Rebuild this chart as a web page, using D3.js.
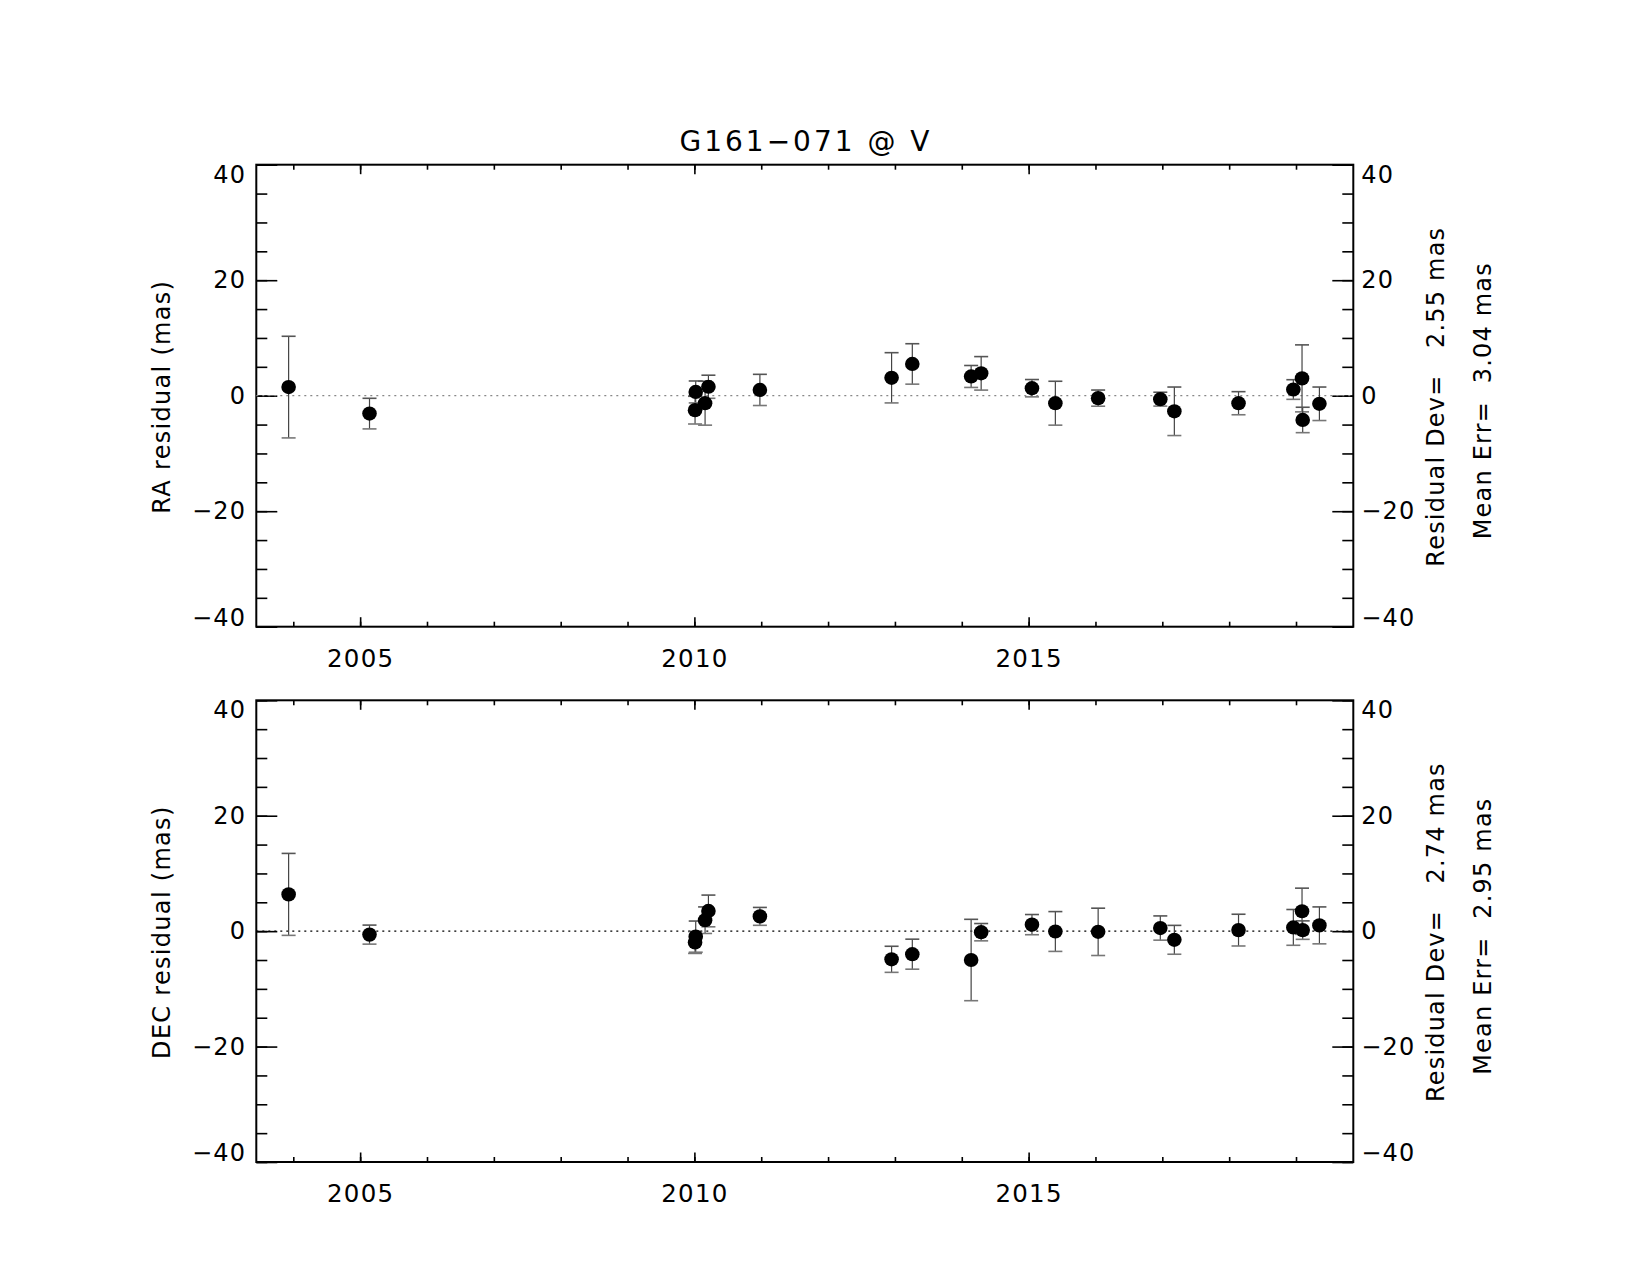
<!DOCTYPE html>
<html>
<head>
<meta charset="utf-8">
<script src="https://cdn.jsdelivr.net/npm/d3@7"></script>
<style>
  body { margin: 0; background: #fff; }
  svg text { font-family: "DejaVu Sans", sans-serif; fill: #000; }
</style>
</head>
<body>
<div id="chart"></div>
<script>
// epochs (decimal year) and residuals / errors in mas
const epochs = [2003.93, 2005.14, 2010.01, 2010.02, 2010.16, 2010.21, 2010.98, 2012.95, 2013.26, 2014.14, 2014.29,
                2015.05, 2015.40, 2016.04, 2016.97, 2017.18, 2018.14, 2018.96, 2019.09, 2019.10, 2019.35]
const raRes  = [1.49, -3.1, -2.5, 0.65, -1.3, 1.55, 1.0, 3.1, 5.5, 3.33, 3.87, 1.3, -1.3, -0.42, -0.6, -2.7, -1.3, 1.07, 3.0, -4.2, -1.4]
const raErr  = [8.8, 2.65, 2.4, 1.9, 3.8, 2.0, 2.7, 4.35, 3.5, 1.9, 2.9, 1.5, 3.8, 1.4, 1.2, 4.2, 2.0, 1.7, 5.8, 2.2, 2.9]
const decRes = [6.37, -0.6, -1.96, -0.95, 1.9, 3.5, 2.56, -4.88, -3.99, -5.0, -0.18, 1.13, -0.06, -0.12, 0.54, -1.5, 0.18, 0.65, 3.45, 0.18, 1.0]
const decErr = [7.1, 1.65, 1.9, 2.7, 2.3, 2.75, 1.55, 2.26, 2.6, 7.05, 1.5, 1.75, 3.45, 4.1, 2.1, 2.5, 2.75, 3.1, 4.0, 1.6, 3.2]

const xMajor = [2005, 2010, 2015]
const xMinor = d3.range(2004, 2020)
const yMajor = [-40, -20, 0, 20, 40]
const yMinor = d3.range(-40, 41, 5)

const title = "G161\u2212071 @ V"
const yTitles = ["RA residual (mas)", "DEC residual (mas)"]
const devLabels = ["Residual Dev=   2.55 mas", "Residual Dev=   2.74 mas"]
const errLabels = ["Mean Err=  3.04 mas", "Mean Err=  2.95 mas"]

let width = 1650, height = 1275
let svg = d3.select("#chart").append("svg")
    .attr("width", width)
    .attr("height", height)

svg.append("rect").attr("width", width).attr("height", height).attr("fill", "#fff")

let x = d3.scaleLinear().domain([2003.4465, 2019.857]).range([256.3, 1353.3])

svg.append("text")
    .attr("x", 806).attr("y", 151)
    .attr("text-anchor", "middle")
    .attr("font-size", 28)
    .attr("letter-spacing", "3px")
    .text(title)

const drawPanel = (top, bottom, res, err, idx, zeroColor) => {
    let y = d3.scaleLinear().domain([-40, 40]).range([bottom, top])
    let g = svg.append("g")
    let mid = (top + bottom) / 2

    const styleAxis = (sel, size) => {
        sel.select(".domain").remove()
        sel.selectAll("line").attr("stroke", "#000").attr("stroke-width", 1.6)
        sel.attr("font-family", null).attr("font-size", size || 24)
        sel.selectAll("text").attr("letter-spacing", "1.2px")
    }

    // left axis
    g.append("g").attr("transform", `translate(${x.range()[0]},0)`)
        .call(d3.axisLeft(y).tickValues(yMinor).tickSize(-11).tickFormat(""))
        .call(styleAxis)
    g.append("g").attr("transform", `translate(${x.range()[0]},0)`)
        .call(d3.axisLeft(y).tickValues(yMajor).tickSize(-21).tickPadding(10))
        .call(styleAxis)
        .selectAll("text").attr("y", d => d === 40 ? 10 : d === -40 ? -9 : 0)
    // right axis
    g.append("g").attr("transform", `translate(${x.range()[1]},0)`)
        .call(d3.axisRight(y).tickValues(yMinor).tickSize(-11).tickFormat(""))
        .call(styleAxis)
    g.append("g").attr("transform", `translate(${x.range()[1]},0)`)
        .call(d3.axisRight(y).tickValues(yMajor).tickSize(-21).tickPadding(8))
        .call(styleAxis)
        .selectAll("text").attr("y", d => d === 40 ? 10 : d === -40 ? -9 : 0)
    // bottom axis
    g.append("g").attr("transform", `translate(0,${bottom})`)
        .call(d3.axisBottom(x).tickValues(xMinor).tickSize(-5).tickFormat(""))
        .call(styleAxis)
    g.append("g").attr("transform", `translate(0,${bottom})`)
        .call(d3.axisBottom(x).tickValues(xMajor).tickSize(-9.5).tickPadding(23).tickFormat(d3.format("d")))
        .call(styleAxis, 24.5)
    // top axis
    g.append("g").attr("transform", `translate(0,${top})`)
        .call(d3.axisTop(x).tickValues(xMinor).tickSize(-5).tickFormat(""))
        .call(styleAxis)
    g.append("g").attr("transform", `translate(0,${top})`)
        .call(d3.axisTop(x).tickValues(xMajor).tickSize(-9.5).tickFormat(""))
        .call(styleAxis)

    // frame
    g.append("rect")
        .attr("x", x.range()[0]).attr("y", top)
        .attr("width", x.range()[1] - x.range()[0]).attr("height", bottom - top)
        .attr("fill", "none").attr("stroke", "#000").attr("stroke-width", 2)

    // zero line
    g.append("line")
        .attr("x1", x.range()[0]).attr("x2", x.range()[1])
        .attr("y1", y(0)).attr("y2", y(0))
        .attr("stroke", zeroColor).attr("stroke-width", 1.3)
        .attr("stroke-dasharray", "2,4")

    let pts = epochs.map((t, i) => ({t: t, v: res[i], e: err[i]}))

    // error bars
    let eb = g.append("g").selectAll("g").data(pts).enter().append("g")
    eb.append("line")
        .attr("x1", d => x(d.t)).attr("x2", d => x(d.t))
        .attr("y1", d => y(d.v + d.e)).attr("y2", d => y(d.v - d.e))
        .attr("stroke", "#444").attr("stroke-width", 1.2)
    eb.append("line")
        .attr("x1", d => x(d.t) - 7).attr("x2", d => x(d.t) + 7)
        .attr("y1", d => y(d.v + d.e)).attr("y2", d => y(d.v + d.e))
        .attr("stroke", "#555").attr("stroke-width", 1.6)
    eb.append("line")
        .attr("x1", d => x(d.t) - 7).attr("x2", d => x(d.t) + 7)
        .attr("y1", d => y(d.v - d.e)).attr("y2", d => y(d.v - d.e))
        .attr("stroke", "#777").attr("stroke-width", 1.6)

    // points
    g.append("g").selectAll("ellipse").data(pts).enter().append("ellipse")
        .attr("cx", d => x(d.t)).attr("cy", d => y(d.v))
        .attr("rx", 7.3).attr("ry", 7.1)
        .attr("fill", "#000")

    // y title
    g.append("text")
        .attr("transform", `translate(170,${mid + 1}) rotate(-90)`)
        .attr("text-anchor", "middle")
        .attr("font-size", 24)
        .attr("letter-spacing", "1.3px")
        .text(yTitles[idx])

    // stats on the right
    g.append("text")
        .attr("transform", `translate(1444,${mid + 1}) rotate(-90)`)
        .attr("text-anchor", "middle")
        .attr("font-size", 24)
        .attr("letter-spacing", "1.2px")
        .style("white-space", "pre")
        .text(devLabels[idx])
    g.append("text")
        .attr("transform", `translate(1491,${mid + 5}) rotate(-90)`)
        .attr("text-anchor", "middle")
        .attr("font-size", 24)
        .attr("letter-spacing", "1.2px")
        .style("white-space", "pre")
        .text(errLabels[idx])
}

drawPanel(164.7, 626.7, raRes, raErr, 0, "#888")
drawPanel(700.3, 1162, decRes, decErr, 1, "#000")
</script>
</body>
</html>
